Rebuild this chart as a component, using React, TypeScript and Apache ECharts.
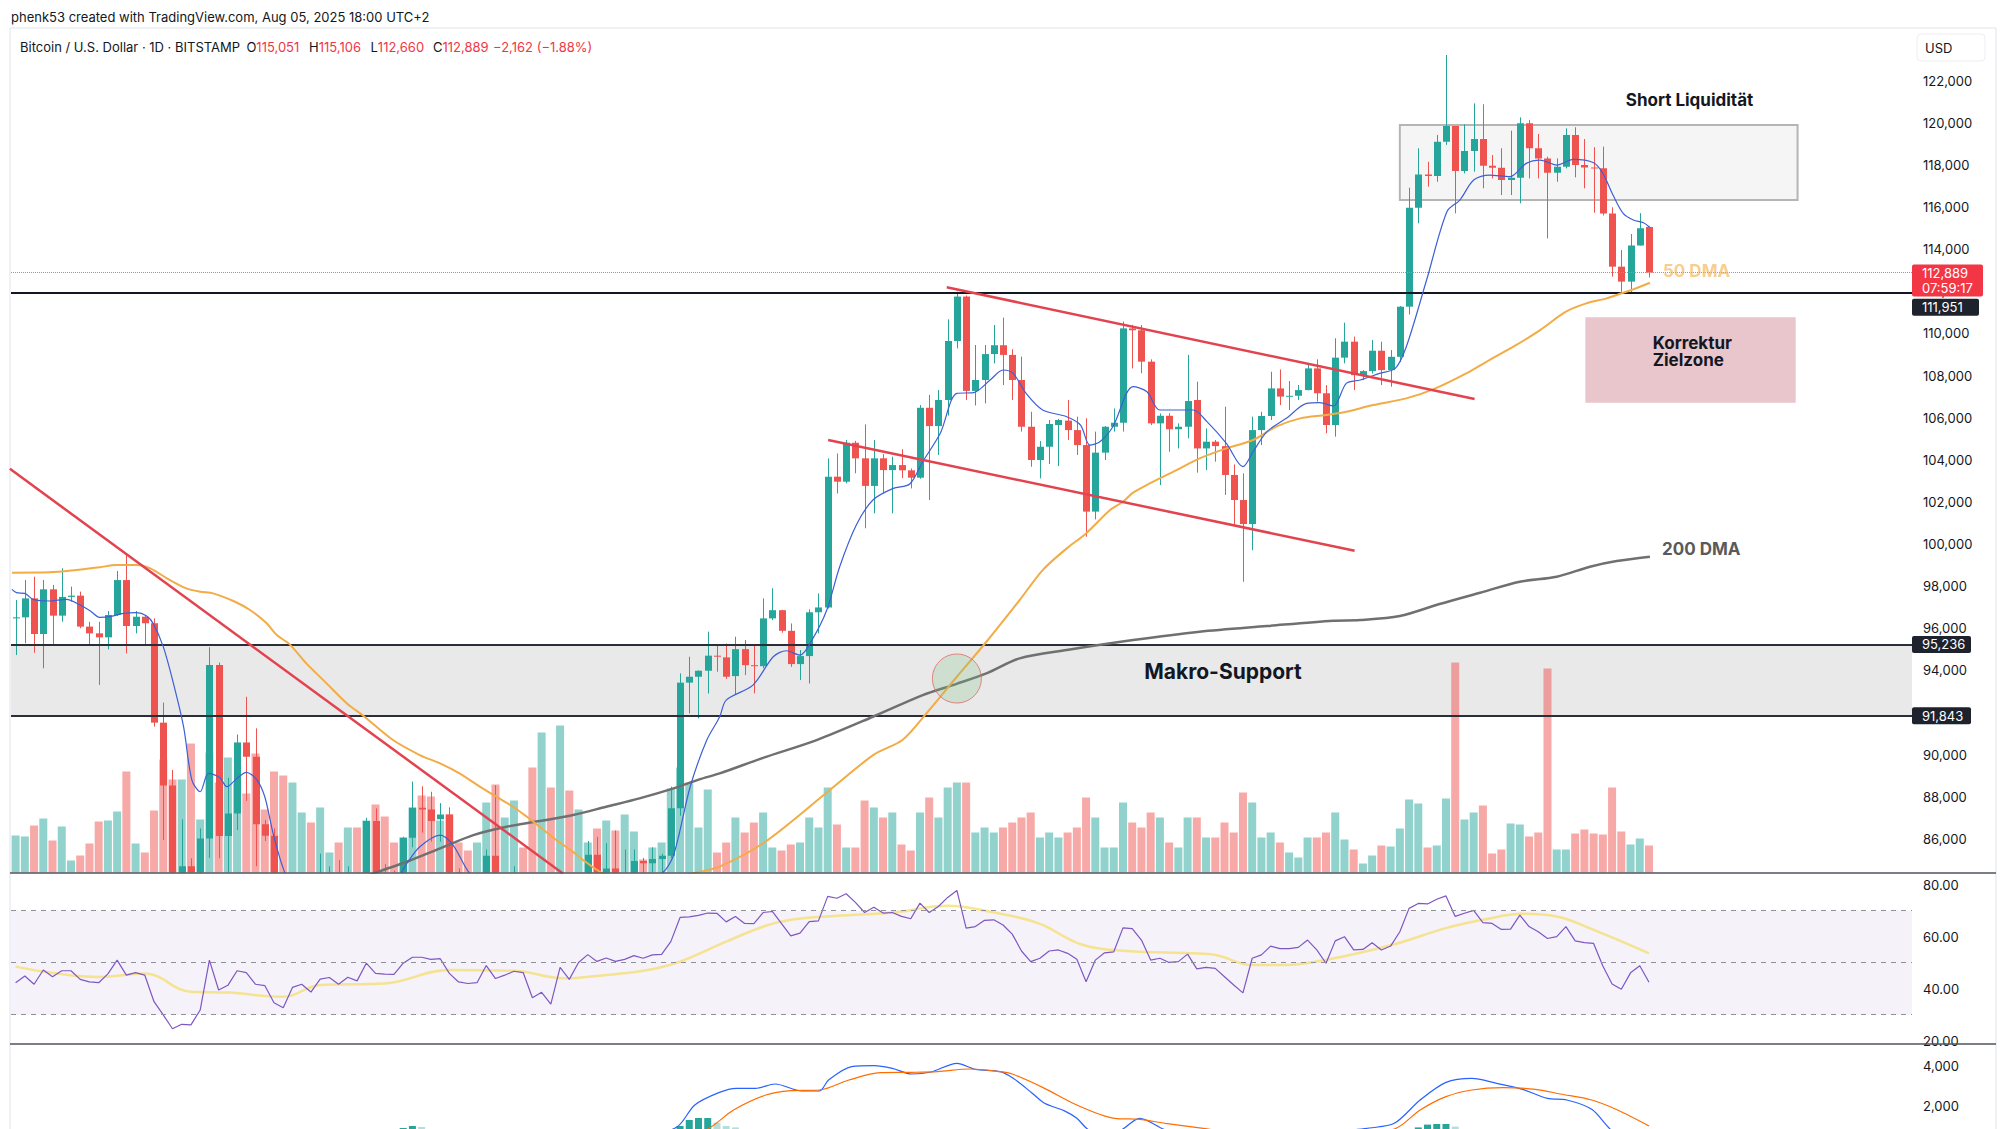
import React, { useEffect, useRef } from "react";
import * as echarts from "echarts";

const FONT = "Inter, 'Noto Sans', Roboto, sans-serif";

// Daily candles, Feb 09 2025 .. Aug 05 2025 : [open, close, low, high]
const OHLC: number[][] = [
  [96470,96520,94730,97340],[96520,97420,95290,98290],[97420,95730,94840,98450],[95730,97850,94100,98290],
  [97850,96600,95240,98060],[96600,97490,96310,98850],[97490,97550,97260,97980],[97550,96080,96000,97740],
  [96080,95760,95200,96310],[95760,95570,93310,96310],[95570,96630,95000,96820],[96630,98290,96580,98720],
  [98290,96110,94810,99480],[96110,96550,95760,96820],[96550,96240,95250,96580],[96240,91520,91330,96470],
  [91520,88530,85950,92470],[88530,84250,82300,89270],[84250,84700,82800,86930],[84700,84400,78200,85080],
  [84400,86020,83800,86500],[86020,94260,85100,95100],[94260,86140,85080,94370],[86140,87210,81400,88900],
  [87210,90580,86420,90960],[90580,89900,87800,92750],[89900,86700,84700,91250],[86700,86150,85900,86900],
  [86150,80700,80000,86500],[80700,78600,77400,84000],[78600,82900,76600,83600],[82900,83600,80600,84300],
  [83600,81100,79900,84300],[81100,84000,80800,85300],[84000,84300,83700,84700],[84300,82600,81900,85000],
  [82600,84100,82500,84700],[84100,82700,81200,84100],[82700,86850,82600,87000],[86850,84200,83700,87450],
  [84200,84050,83200,84800],[84050,83800,83700,84500],[83800,86060,83700,86100],[86060,87480,85600,88720],
  [87480,87400,86300,88500],[87400,86850,85870,88240],[86930,87160,85870,87700],[87160,84400,83600,87500],
  [84400,82600,81600,84600],[82600,82400,81600,83500],[82400,82600,81300,83900],[82600,85200,82400,85500],
  [85200,82500,82300,88550],[82500,83100,81200,83900],[83100,83900,81600,84700],[83900,83500,82400,84200],
  [83500,78400,77200,83800],[78400,79200,74500,81200],[79200,76300,76200,80800],[76300,82600,74600,83500],
  [82600,79600,78400,82700],[79600,83400,79000,84300],[83400,85250,82800,85900],[85250,83700,83000,86100],
  [83700,84600,83600,85800],[84600,83600,83600,86400],[83600,84000,83100,85500],[84000,84950,83900,85500],
  [84950,84850,84200,85100],[84850,85050,84400,85600],[85050,85200,83900,85300],[85200,87450,85100,88480],
  [87450,93420,87100,93860],[93420,93700,91960,94650],[93700,93985,91720,94000],[93985,94700,92900,95840],
  [94700,94650,93940,95200],[94620,93700,93600,95280],[93730,95010,92830,95600],[95010,94250,93780,95440],
  [94250,94200,92910,95200],[94200,96470,94100,97420],[96470,96860,96390,97900],[96860,95880,95790,96880],
  [95880,94300,94170,96230],[94300,94680,93540,94970],[94680,96760,93380,96900],[96760,96990,95760,97660],
  [96990,103200,96940,104070],[103200,102960,102400,104300],[102960,104810,102880,104940],[104810,104070,103360,104900],
  [104070,102760,100750,105680],[102760,104070,101460,104940],[104070,103510,102410,104270],[103510,103750,101460,104150],
  [103750,103500,103130,104500],[103500,103150,102640,103590],[103150,106470,103100,106600],[106470,105600,102090,107080],
  [105600,106840,104230,107310],[106840,109640,106100,110670],[109640,111750,109290,111980],[111750,107270,106840,111800],
  [107270,107790,106580,109450],[107790,109020,106680,109450],[109020,109440,108580,110400],[109440,108980,107550,110750],
  [108980,107790,106840,109250],[107790,105570,105340,108900],[105570,103990,103670,106280],[103990,104620,103120,104890],
  [104620,105700,103800,105890],[105650,105890,103700,105940],[105860,105410,104940,106840],[105410,104700,104230,106050],
  [104700,101540,100350,105970],[101540,104340,101170,105340],[104340,105570,103990,105600],[105570,105760,105340,106440],
  [105760,110240,105340,110560],[110240,110150,108340,110410],[110150,108660,108110,110400],[108660,105730,105650,108770],
  [105730,106090,102800,106200],[106090,105450,104380,106210],[105450,105570,104540,105730],[105570,106790,105020,108980],
  [106840,104540,103390,107710],[104540,104860,103510,105490],[104860,104650,103910,104940],[104650,103280,102330,106520],
  [103280,102090,100900,103780],[102090,100950,98210,103360],[100950,105410,99710,106050],[105410,106080,104700,106280],
  [106080,107390,105890,108180],[107390,107000,106600,108290],[107000,107040,106360,107740],[107040,107310,106840,107550],
  [107310,108340,107300,108500],[108340,107160,106760,108770],[107160,105650,105260,107550],[105650,108850,105100,109770],
  [108850,109610,108580,110510],[109610,108020,107310,109850],[108020,108210,107780,108260],[108210,109180,108100,109690],
  [109180,108260,107550,109610],[108260,108890,107470,109210],[108890,111270,108640,111300],[111270,115970,110900,116920],
  [115970,117550,115230,118790],[117550,117480,116970,118150],[117480,119100,117200,119420],[119100,119850,118950,123220],
  [119850,117710,115700,119850],[117710,118660,117600,119930],[118660,119230,117680,120920],[119230,117960,116890,120880],
  [117960,117870,117360,118470],[117870,117280,116570,118790],[117280,117390,116570,119630],[117390,119980,116180,120260],
  [119980,118790,117360,120130],[118790,118310,117360,119470],[118310,117630,114510,118390],[117630,117920,117200,118310],
  [117920,119420,117840,119740],[119420,118000,117410,119790],[118000,117880,116890,119230],[117880,117840,115730,118840],
  [117840,115700,115600,118870],[115700,113170,112700,115990],[113170,112460,111980,113960],[112460,114170,111900,114720],
  [114170,114990,114170,115710],[115051,112889,112660,115106],
];

// daily volume (BTC, read as relative bar heights)
const VOLUME: number[] = [
  925,900,1175,1350,800,1150,300,425,725,1275,1300,1525,2525,725,500,1550,2825,2325,2325,3225,
  1325,3000,2250,2875,2225,1975,2975,1575,2525,2425,2250,1500,1250,1625,500,750,1125,1125,1300,1700,
  1400,750,875,1625,1925,1900,1300,1450,750,550,750,1750,2200,1375,1800,625,2625,3500,2125,3675,
  2050,1575,750,1100,1300,1050,1450,1025,325,625,750,2100,2625,2250,1125,2075,500,750,1375,1000,
  1250,1500,625,550,700,750,1375,1125,2125,1200,625,625,1800,1625,1375,1500,700,550,1500,1875,
  1375,2125,2250,2250,1000,1125,1000,1125,1250,1375,1500,875,1000,875,1000,1125,1875,1375,625,625,
  1750,1250,1125,1500,1375,750,625,1375,1375,875,875,1250,1000,2000,1750,875,1000,750,500,375,
  875,875,1000,1500,825,575,225,425,675,650,1100,1825,1725,625,675,1850,5250,1325,1500,1675,
  475,575,1225,1200,900,1000,5100,575,575,975,1075,975,950,2125,1025,700,850,675,
];

// short EMA (blue), 50 DMA (orange), 200 DMA (grey): [candle index, price]
const EMA_SHORT: number[][] = [
  [-0.4,97849],[0.1,97690],[1,97659],[1.9,97374],[3.7,97295],[5.5,97374],[7,97105],[8.1,96820],[9.1,96520],
  [10.2,96551],[11.7,96709],[13.1,96741],[14.2,96583],[14.9,96235],[16,95127],[17.1,93385],[18.2,91327],
  [19.1,88795],[20,88240],[20.9,89111],[22.1,88921],[22.9,88478],[24,88874],[25,89159],[26.1,88826],
  [27,88003],[27.9,86261],[29,84600],[30.5,83200],[34,82600],[38,83300],[41,83900],[42.4,84837],[43.8,85628],
  [46,86182],[47.4,85707],[49.2,84362],[52,83300],[57,81000],[62,82400],[66,83700],[70,84362],[71.3,85233],
  [73.1,88478],[74.9,90694],[76.3,91802],[77,92591],[79.9,93303],[82.1,94649],[83.5,94934],[85,94728],
  [86.4,95520],[87.9,96865],[89.3,98922],[91.1,100902],[92.9,102090],[95.1,102643],[96.9,102849],
  [98.3,103910],[100.2,105256],[102,107157],[103.8,107187],[105.6,107788],[107,108263],[108.1,108105],
  [109.5,107155],[111.3,106364],[113.9,106047],[115.4,105651],[116.4,104701],[117.5,104860],[118.9,105572],
  [121.1,107472],[122.6,107234],[124,106364],[127.6,106364],[129.1,105810],[131.2,104780],[133,103673],
  [134.1,104385],[135.6,105335],[137.7,105968],[139.9,106680],[141.3,106712],[142.8,106554],[144.2,107630],
  [145.7,107788],[147.8,108102],[149.5,108340],[150.7,109369],[152.9,112535],[155.1,115780],[156.5,116334],
  [158,117283],[159.7,117521],[161.9,117441],[163.7,118075],[165.2,118233],[167,117996],[168.8,118265],
  [171,118107],[172,117600],[173.1,116571],[174.2,115700],[175.3,115384],[176.4,115257],[177,115067],
];
const DMA50: number[][] = [
  [-0.4,98641],[3.7,98657],[6.6,98767],[9.1,98894],[10.9,99005],[13.1,99005],[14.6,98846],[16.4,98371],
  [18.5,97897],[20,97738],[21.4,97659],[23.6,97295],[25.4,96868],[27.2,96235],[28.3,95680],[29.7,95237],
  [31.5,94335],[33.7,93385],[35.9,92435],[37.7,91840],[40.9,90694],[43.8,89982],[46,89586],[48.1,89111],
  [50.3,88478],[52.1,88003],[53.9,87528],[55.4,87053],[56.8,86578],[58.6,85945],[60.4,85391],[61.5,84995],
  [64,84300],[68,84100],[72,84250],[74.1,84440],[76.3,84680],[81.2,85853],[88.1,88276],[93,90000],
  [96.1,90692],[98.7,91958],[102,93700],[105.2,95361],[108.8,97340],[111.3,98765],[113.9,99794],
  [116,100506],[118.6,101614],[120,102010],[121.1,102438],[122.9,102881],[125.8,103514],[128.3,104068],
  [131.2,104543],[134.1,104939],[136.6,105572],[139.2,105968],[142,106126],[144.2,106284],[147.1,106598],
  [150.7,106915],[153.6,107342],[157.2,108102],[159.7,108735],[162.3,109369],[165.2,110160],[168,111031],
  [170.2,111426],[172.4,111664],[174.2,111933],[175.3,112091],[177.1,112408],
];
const DMA200: number[][] = [
  [36,83900],[39.3,84440],[42.4,84917],[46,85550],[49.6,86182],[53.2,86578],[56.8,86847],[60.4,87133],
  [64,87528],[67.6,87924],[71.3,88399],[74.1,88826],[76.3,89111],[81,89850],[86.8,90692],[92.9,91800],
  [98.3,92829],[101.9,93351],[105.2,93857],[108.8,94570],[113.9,94966],[121.1,95441],[128.3,95837],
  [135.6,96106],[142.8,96359],[145.7,96390],[150,96582],[154.3,97152],[158.7,97690],[163,98213],
  [167,98450],[170.6,98925],[173.5,99194],[177.1,99400],
];

// RSI (14) per candle and its moving average
const RSI: number[] = [
  42.3,44.9,41.7,47.2,44.6,46.9,46.9,43.6,42.6,42.3,45.7,51.0,45.2,46.2,45.2,35.0,29.9,24.6,26.3,26.1,
  31.8,51.0,39.5,41.3,46.9,46.2,41.7,41.2,34.6,32.7,40.5,41.7,38.7,43.7,44.3,41.7,44.4,43.0,49.8,45.9,
  45.6,45.5,49.8,52.1,52.1,51.3,51.6,45.9,42.6,42.0,42.3,48.9,43.9,45.2,46.7,46.2,36.5,38.6,34.1,48.2,
  43.6,50.1,53.1,50.5,51.8,50.5,51.3,52.7,51.7,53.0,53.2,58.1,67.4,67.6,68.2,69.1,69.0,65.7,67.8,65.1,
  65.0,69.3,69.7,65.0,60.3,61.4,65.8,66.1,75.5,74.8,76.5,73.2,69.3,71.3,69.1,69.3,67.8,66.9,72.9,69.3,
  71.6,75.1,77.8,63.3,63.9,66.3,66.5,64.5,61.0,54.5,50.4,51.7,54.5,54.9,53.6,51.3,42.7,51.0,53.8,54.2,
  63.4,63.1,58.7,51.0,51.7,50.1,50.4,53.3,47.6,48.2,47.8,44.6,41.4,38.4,51.7,53.0,56.4,55.4,55.4,55.9,
  58.7,54.9,49.8,58.4,60.0,54.9,55.1,57.7,54.9,56.4,61.9,70.9,72.8,72.6,74.4,75.7,67.8,69.0,70.1,65.4,
  65.1,62.8,62.9,68.3,63.9,61.9,59.3,60.0,63.9,58.4,57.7,57.4,48.7,41.8,39.8,46.1,48.8,42.5,
];
const RSI_MA: number[][] = [
  [0,48.5],[9,44.5],[14,45.8],[19,38.8],[23,38.5],[29,36.9],[33,41.4],[40,42],[47,47.2],[54,46.9],
  [59.4,44],[61.5,44.4],[65.8,45.9],[69.5,47.9],[72,50.4],[77,58.1],[81.2,64.1],[84,66.5],[88,67.8],
  [95,69.3],[101,71.9],[106,69.3],[110.8,65.2],[115.6,56.9],[120.4,54.5],[127.3,53.6],[130,53],
  [134,49.1],[137.5,49.1],[142.3,51.3],[149.2,56.9],[155,63.3],[159,66.5],[163.3,68.8],[167,67.8],
  [171,62.6],[177,53.6],
];

// MACD line, signal line and histogram
const MACD: number[][] = [
  [55,-300],[62,100],[68,400],[71.7,967],[73.6,2050],[76.2,2667],[78.1,2883],[80.2,2883],[82.3,3100],
  [85.2,2750],[87.1,2750],[88.1,3300],[90.6,3967],[93,4017],[95,3883],[97.1,3600],[99.2,3700],[102,4133],
  [104,3833],[106.7,3717],[108.1,3383],[110.1,2667],[111.5,2133],[113.6,1767],[115,1383],[116.3,800],
  [118,650],[119.8,800],[121.8,1383],[124.6,800],[128,400],[133,-200],[138,200],[143.9,750],[146.7,900],
  [149.4,1133],[152.2,2300],[155,3183],[157.8,3383],[160.5,3133],[163.3,2833],[166,2383],[168.1,2300],
  [170.8,1833],[172.9,800],[175,300],[177,0],
];
const SIGNAL: number[][] = [
  [60,-400],[68,100],[72,450],[75,850],[77.8,1800],[81.3,2550],[84,2767],[87.1,2800],[90.3,3300],
  [93.7,3667],[97.1,3683],[99.9,3717],[103.4,3850],[106.7,3717],[108,3600],[111.5,2883],[115,2050],
  [119.1,1383],[121.8,1333],[124.6,1133],[128.7,883],[135,450],[142,400],[149.4,850],[152.2,1800],
  [155,2467],[157.8,2800],[161.2,2917],[164.7,2833],[167.4,2600],[170.8,2300],[173.6,1800],[177,1000],
];
const HIST: number[][] = [
  [42,900],[43,1000],[44,950],[72,1000],[73,1300],[74,1400],[75,1400],[76,1170],[77,1000],[78,930],
  [152,930],[153,1070],[154,1100],[155,1100],[156,970],
];
const HIST_GROWING = [42, 43, 72, 73, 74, 75, 152, 153, 154, 155];

// annotations (price levels / zones)
const LEVEL_LAST = 112889;
const LEVEL_RES = 111951;
const SUPPORT_HIGH = 95236;
const SUPPORT_LOW = 91843;
const SHORT_ZONE = [[150.0, 119897], [193.1, 116336]];
const CORR_ZONE = [[170.1, 110766], [192.9, 106712]];
const TREND_DOWN = [[-0.62, 103570], [59.3, 84360]];
const CHANNEL_UP = [[100.9, 112190], [158.1, 106883]];
const CHANNEL_LOW = [[88.05, 104939], [145.1, 99683]];
const CROSS_POINT = [102.0, 93616];

const PRICE_TICKS = [86000, 88000, 90000, 92000, 94000, 96000, 98000, 100000, 102000, 104000, 106000, 108000,
  110000, 112000, 114000, 116000, 118000, 120000, 122000];
const RSI_TICKS = [20, 40, 60, 80];
const MACD_TICKS = [2000, 4000];

const SLOTS = 206;
const START = Date.UTC(2025, 1, 9);
const CATEGORIES = Array.from({ length: SLOTS }, (_, i) => {
  const d = new Date(START + i * 86400000);
  return d.toISOString().slice(0, 10);
});

const UP = "#26a69a";
const DOWN = "#ef5350";

export default function App() {
  const ref = useRef<HTMLDivElement>(null);
  useEffect(() => {
    const chart = echarts.init(ref.current!, null, { renderer: "svg" });
    const G = { left: 11, width: 1901 };
    const grids = [
      { ...G, top: 28, height: 844.5 },
      { ...G, top: 28, height: 844.5 },
      { ...G, top: 873, height: 171 },
      { ...G, top: 1044, height: 85 },
    ];
    const fmt = (v: number) => v.toLocaleString("en-US");
    const labelStyle = { color: "#131722", fontSize: 13, fontFamily: FONT, margin: 11 };
    const valAxisX = (gi: number) => ({ type: "value", gridIndex: gi, min: -0.5, max: SLOTS - 0.5, show: false });

    const renderCandle = (params: any, api: any) => {
      const i = api.value(0);
      const o = api.value(1), c = api.value(2), l = api.value(3), h = api.value(4);
      const pO = api.coord([i, o]);
      const yC = api.coord([i, c])[1];
      const yL = api.coord([i, l])[1];
      const yH = api.coord([i, h])[1];
      const color = c >= o ? UP : DOWN;
      const x = pO[0];
      const xw = Math.round(x) + 0.5;
      const top = Math.min(pO[1], yC);
      const hgt = Math.max(1, Math.abs(pO[1] - yC));
      return {
        type: "group",
        children: [
          { type: "line", shape: { x1: xw, y1: yH, x2: xw, y2: yL }, style: { stroke: color, lineWidth: 1 } },
          { type: "rect", shape: { x: Math.round(x) - 3, y: top, width: 7, height: hgt }, style: { fill: color } },
        ],
      };
    };

    const option: any = {
      animation: false,
      backgroundColor: "#ffffff",
      grid: grids,
      xAxis: [
        { type: "category", gridIndex: 0, data: CATEGORIES, show: false, boundaryGap: true },
        { type: "category", gridIndex: 1, data: CATEGORIES, show: false, boundaryGap: true },
        valAxisX(0),
        valAxisX(2),
        valAxisX(3),
      ],
      yAxis: [
        {
          type: "value", gridIndex: 0, position: "right", min: 84405, max: 124502, scale: true,
          axisLine: { show: false }, axisTick: { show: false }, splitLine: { show: false },
          axisLabel: { ...labelStyle, customValues: PRICE_TICKS, formatter: fmt },
        },
        { type: "value", gridIndex: 1, min: 0, max: 21112, show: false, splitLine: { show: false } },
        {
          type: "value", gridIndex: 2, position: "right", min: 18.73, max: 84.5,
          axisLine: { show: false }, axisTick: { show: false }, splitLine: { show: false },
          axisLabel: { ...labelStyle, customValues: RSI_TICKS, formatter: (v: number) => v.toFixed(2) },
        },
        {
          type: "value", gridIndex: 3, position: "right", min: 850, max: 5100,
          axisLine: { show: false }, axisTick: { show: false }, splitLine: { show: false },
          axisLabel: { ...labelStyle, customValues: MACD_TICKS, formatter: fmt },
        },
      ],
      series: [
        {
          name: "zones", type: "line", xAxisIndex: 2, yAxisIndex: 0, data: [[-10, 100000]], z: 1,
          showSymbol: false, silent: true, lineStyle: { opacity: 0 },
          markArea: {
            silent: true,
            data: [
              [{ yAxis: SUPPORT_LOW, itemStyle: { color: "#e9e9ea" } }, { yAxis: SUPPORT_HIGH }],
              [
                { coord: SHORT_ZONE[0], itemStyle: { color: "rgba(236,236,236,0.55)", borderColor: "#b5b5b5", borderWidth: 2 } },
                { coord: SHORT_ZONE[1] },
              ],
              [{ coord: CORR_ZONE[0], itemStyle: { color: "#e8c6cb" } }, { coord: CORR_ZONE[1] }],
            ],
          },
        },
        {
          name: "Volume", type: "bar", xAxisIndex: 1, yAxisIndex: 1, barWidth: 8, z: 2, silent: true,
          data: VOLUME.map((v, i) => ({
            value: v,
            itemStyle: { color: OHLC[i][1] >= OHLC[i][0] ? "rgba(38,166,154,0.5)" : "rgba(239,83,80,0.5)" },
          })),
        },
        {
          name: "BTCUSD", type: "custom", xAxisIndex: 2, yAxisIndex: 0, clip: true, z: 4, silent: true,
          data: OHLC.map((r, i) => [i, ...r]),
          encode: { x: 0, y: [1, 2, 3, 4] },
          renderItem: renderCandle,
          markLine: {
            silent: true, symbol: ["none", "none"], label: { show: false },
            data: [
              { yAxis: LEVEL_LAST, lineStyle: { type: "dotted", color: "#e07b7b", width: 1 } },
              { yAxis: LEVEL_RES, lineStyle: { type: "solid", color: "#131722", width: 2 } },
              { yAxis: SUPPORT_HIGH, lineStyle: { type: "solid", color: "#2a2e39", width: 2 } },
              { yAxis: SUPPORT_LOW, lineStyle: { type: "solid", color: "#2a2e39", width: 2 } },
            ],
          },
        },
        {
          name: "200 DMA", type: "line", xAxisIndex: 2, yAxisIndex: 0, data: DMA200, smooth: 0.3, showSymbol: false,
          z: 5, lineStyle: { color: "#707070", width: 2.5 },
        },
        {
          name: "50 DMA", type: "line", xAxisIndex: 2, yAxisIndex: 0, data: DMA50, smooth: 0.3, showSymbol: false,
          z: 5, lineStyle: { color: "#f3ac45", width: 2 },
        },
        {
          name: "EMA", type: "line", xAxisIndex: 2, yAxisIndex: 0, data: EMA_SHORT, smooth: 0.3, showSymbol: false,
          z: 5, lineStyle: { color: "#3d5fd6", width: 1.2 },
        },
        ...[TREND_DOWN, CHANNEL_UP, CHANNEL_LOW].map((d) => ({
          type: "line", xAxisIndex: 2, yAxisIndex: 0, data: d, showSymbol: false, z: 6, silent: true,
          lineStyle: { color: "#e2434f", width: 2.5 },
        })),
        {
          type: "scatter", xAxisIndex: 2, yAxisIndex: 0, data: [CROSS_POINT], symbolSize: 49, z: 6, silent: true,
          itemStyle: { color: "rgba(120,190,120,0.3)", borderColor: "#e06a6a", borderWidth: 1 },
        },
        {
          name: "RSI", type: "line", xAxisIndex: 3, yAxisIndex: 2, data: RSI.map((v, i) => [i, v]), showSymbol: false,
          z: 4, lineStyle: { color: "#7e57c2", width: 1.2 },
          markArea: {
            silent: true,
            data: [[{ yAxis: 30, itemStyle: { color: "rgba(126,87,194,0.08)" } }, { yAxis: 70 }]],
          },
          markLine: {
            silent: true, symbol: ["none", "none"], label: { show: false },
            lineStyle: { type: [5, 5], color: "#8d9099", width: 1 },
            data: [{ yAxis: 70 }, { yAxis: 50 }, { yAxis: 30 }],
          },
        },
        {
          name: "RSI MA", type: "line", xAxisIndex: 3, yAxisIndex: 2, data: RSI_MA, smooth: 0.4, showSymbol: false,
          z: 3, lineStyle: { color: "#f4de6e", width: 2.5, opacity: 0.75 },
        },
        {
          name: "Histogram", type: "bar", xAxisIndex: 4, yAxisIndex: 3, barWidth: 7, z: 2,
          data: HIST.map(([i, v]) => ({ value: [i, v], itemStyle: { color: HIST_GROWING.includes(i) ? "#26a69a" : "#b2dfdb" } })),
        },
        {
          name: "MACD", type: "line", xAxisIndex: 4, yAxisIndex: 3, data: MACD, smooth: 0.3, showSymbol: false,
          z: 4, lineStyle: { color: "#2962ff", width: 1.2 },
        },
        {
          name: "Signal", type: "line", xAxisIndex: 4, yAxisIndex: 3, data: SIGNAL, smooth: 0.3, showSymbol: false,
          z: 4, lineStyle: { color: "#ff6d00", width: 1.2 },
        },
      ],
    };
    chart.setOption(option);

    const py = (p: number) => chart.convertToPixel({ yAxisIndex: 0 }, p) as number;
    const txt = (text: string, x: number, y: number, extra: any = {}) => ({
      type: "text", x, y, z: 100, silent: true,
      style: { text, fill: "#131722", font: `13px ${FONT}`, verticalAlign: "middle", align: "left", ...extra },
    });
    const tag = (label: string, p: number, dy: number, w: number, color: string) => {
      const yc = py(p) + dy;
      return [
        { type: "rect", z: 100, silent: true, shape: { x: 1912, y: yc - 8.5, width: w, height: 17, r: 2 }, style: { fill: color } },
        txt(label, 1922, yc, { fill: "#ffffff" }),
      ];
    };
    const yLast = py(LEVEL_LAST);
    const graphic: any[] = [
      { type: "rect", z: 0, silent: true, shape: { x: 10, y: 28, width: 1986, height: 1110 }, style: { fill: "none", stroke: "#e0e3eb", lineWidth: 1 } },
      { type: "line", z: 90, silent: true, shape: { x1: 10, y1: 873, x2: 1996, y2: 873 }, style: { stroke: "#50535e", lineWidth: 1.5 } },
      { type: "line", z: 90, silent: true, shape: { x1: 10, y1: 1044, x2: 1996, y2: 1044 }, style: { stroke: "#50535e", lineWidth: 1.5 } },
      txt("phenk53 created with TradingView.com, Aug 05, 2025 18:00 UTC+2", 11, 17),
      txt("Bitcoin / U.S. Dollar · 1D · BITSTAMP", 20, 47),
      ...[["O", "115,051", 246.4], ["H", "115,106", 309], ["L", "112,660", 370.5], ["C", "112,889", 433]].map(([k, v, x]) =>
        txt(`${k}{v|${v}}`, x as number, 47, { rich: { v: { fill: "#f23645", font: `13px ${FONT}` } } })
      ),
      txt("−2,162 (−1.88%)", 493, 47, { fill: "#f23645" }),
      { type: "rect", z: 100, silent: true, shape: { x: 1917, y: 34, width: 68, height: 27, r: 4 }, style: { fill: "#fff", stroke: "#eceef2", lineWidth: 1 } },
      txt("USD", 1925, 47.5),
      txt("Short Liquidität", 1689.5, 99.5, { font: `bold 17px ${FONT}`, align: "center" }),
      txt("Korrektur", 1652.7, 343, { font: `bold 17px ${FONT}` }),
      txt("Zielzone", 1652.7, 360, { font: `bold 17px ${FONT}` }),
      txt("Makro-Support", 1223, 671, { font: `bold 21px ${FONT}`, align: "center" }),
      txt("50 DMA", 1663, 271, { font: `bold 17px ${FONT}`, fill: "rgba(243,172,69,0.6)" }),
      txt("200 DMA", 1662, 548.5, { font: `bold 17px ${FONT}`, fill: "#5a5a5a" }),
      { type: "rect", z: 100, silent: true, shape: { x: 1912, y: yLast - 8, width: 71, height: 32, r: 2 }, style: { fill: "#f23645" } },
      txt("112,889", 1922, yLast + 0.5, { fill: "#ffffff" }),
      txt("07:59:17", 1922, yLast + 15.5, { fill: "#ffffff" }),
      ...tag("111,951", LEVEL_RES, 15, 67, "#1e222d"),
      ...tag("95,236", SUPPORT_HIGH, 0, 59, "#1e222d"),
      ...tag("91,843", SUPPORT_LOW, 0, 59, "#1e222d"),
    ];
    chart.setOption({ graphic });
    return () => chart.dispose();
  }, []);
  return <div ref={ref} style={{ position: "fixed", left: 0, top: 0, width: 2000, height: 1129 }} />;
}
